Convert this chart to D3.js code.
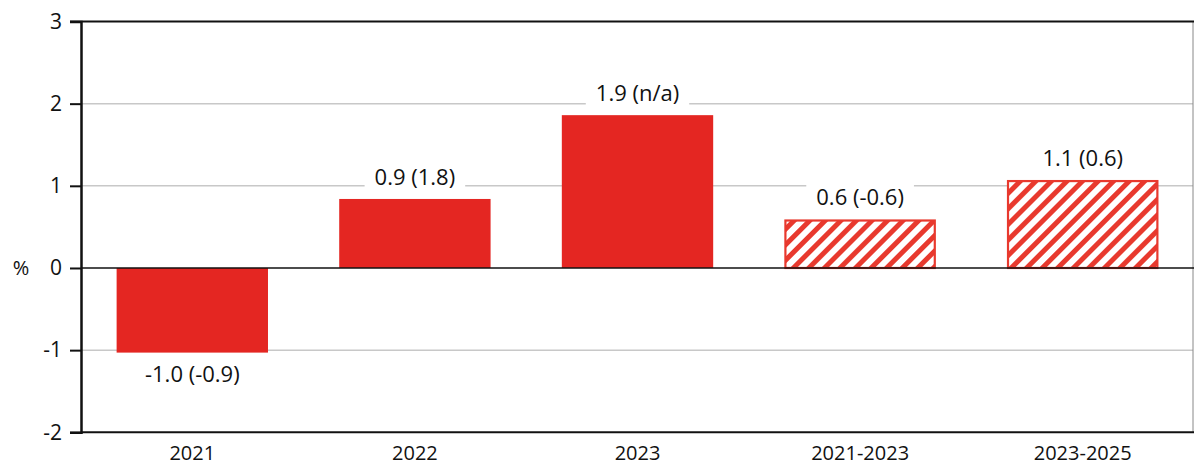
<!DOCTYPE html>
<html><head><meta charset="utf-8">
<script src="https://cdn.jsdelivr.net/npm/d3@7"></script>
<style>body{margin:0;background:#fff}svg{display:block}text{font-family:"Open Sans","Noto Sans",sans-serif;fill:#111}</style>
</head><body><svg id="c" width="1194" height="466"></svg>
<script>
const categories = ["2021","2022","2023","2021-2023","2023-2025"];
const values = [-1.03, 0.84, 1.86, 0.59, 1.07];
const labels = ["-1.0 (-0.9)","0.9 (1.8)","1.9 (n/a)","0.6 (-0.6)","1.1 (0.6)"];
const hatched = [false,false,false,true,true];
const yTicks = [-2,-1,0,1,2,3];

const svg = d3.select("#c");
const m = {left:81, right:1193, top:21.5, bottom:432.3};
const x = d3.scaleBand().domain(categories).range([m.left, 1194]).paddingInner(0.32).paddingOuter(0.16);
const y = d3.scaleLinear().domain([-2,3]).range([m.bottom, m.top]);
const red = "#e42622", hred = "#e8392e";

const defs = svg.append("defs");
const P = 11;
const pat = defs.append("pattern").attr("id","hatch").attr("patternUnits","userSpaceOnUse")
  .attr("width",P).attr("height",P).attr("patternTransform","rotate(45)");
pat.append("rect").attr("width",P).attr("height",P).attr("fill","#fff");
pat.append("rect").attr("x",0).attr("y",0).attr("width",5).attr("height",P).attr("fill",hred);

// gridlines
svg.append("g").selectAll("line").data(yTicks.filter(d=>d!==0 && d!==3 && d!==-2)).join("line")
  .attr("x1",m.left).attr("x2",m.right).attr("y1",d=>y(d)).attr("y2",d=>y(d))
  .attr("stroke","#c8c8c8").attr("stroke-width",1.5);
// right border
svg.append("line").attr("x1",m.right).attr("x2",m.right).attr("y1",m.top).attr("y2",m.bottom).attr("stroke","#888").attr("stroke-width",1);

// bars
svg.append("g").selectAll("rect").data(categories).join("rect")
  .attr("x",(d,i)=>x(d) + (hatched[i]?1:0))
  .attr("width",(d,i)=>x.bandwidth() - (hatched[i]?2:0))
  .attr("y",(d,i)=>Math.min(y(values[i]),y(0)) + (hatched[i]?1:0))
  .attr("height",(d,i)=>Math.abs(y(values[i])-y(0)) - (hatched[i]?1:0))
  .attr("fill",(d,i)=>hatched[i]?"url(#hatch)":red)
  .attr("stroke",(d,i)=>hatched[i]?hred:"none").attr("stroke-width",2.2);

// zero line, top line
svg.append("line").attr("x1",m.left).attr("x2",m.right+1).attr("y1",y(0)).attr("y2",y(0)).attr("stroke","#111").attr("stroke-width",1.5);
svg.append("line").attr("x1",70).attr("x2",m.right+1).attr("y1",y(3)).attr("y2",y(3)).attr("stroke","#111").attr("stroke-width",2);

// y axis
const ya = svg.append("g").attr("transform",`translate(${m.left},0)`)
  .call(d3.axisLeft(y).tickValues(yTicks).tickSize(11).tickPadding(8).tickFormat(d=>String(d)));
ya.select(".domain").attr("stroke","#111").attr("stroke-width",2.5);
ya.selectAll(".tick line").attr("stroke","#111").attr("stroke-width",2);
ya.selectAll(".tick text").style("font-size","21px").attr("fill","#111").attr("font-family",null);

// x axis
const xa = svg.append("g").attr("transform",`translate(0,${m.bottom})`)
  .call(d3.axisBottom(x).tickSize(0).tickPadding(14));
xa.select(".domain").attr("stroke","#111").attr("stroke-width",2).attr("d",`M${m.left},0H${m.right+1}`);
xa.selectAll(".tick text").style("font-size","20px").attr("fill","#111").attr("font-family",null);

svg.append("text").attr("x",21).attr("y",y(0)).attr("dy","0.35em").attr("text-anchor","middle").style("font-size","20px").text("%");

// value labels
const lg = svg.append("g").selectAll("g").data(categories).join("g")
  .attr("transform",(d,i)=>`translate(${x(d)+x.bandwidth()/2},${values[i]>=0? y(values[i])-22 : y(values[i])+22})`);
lg.append("text").attr("text-anchor","middle").attr("dy","0.35em").style("font-size","22px").text((d,i)=>labels[i]);
lg.each(function(){
  const g = d3.select(this); const bb = g.select("text").node().getBBox();
  g.insert("rect","text").attr("x",bb.x-10).attr("y",bb.y).attr("width",bb.width+20).attr("height",bb.height).attr("fill","#fff");
});
</script></body></html>
